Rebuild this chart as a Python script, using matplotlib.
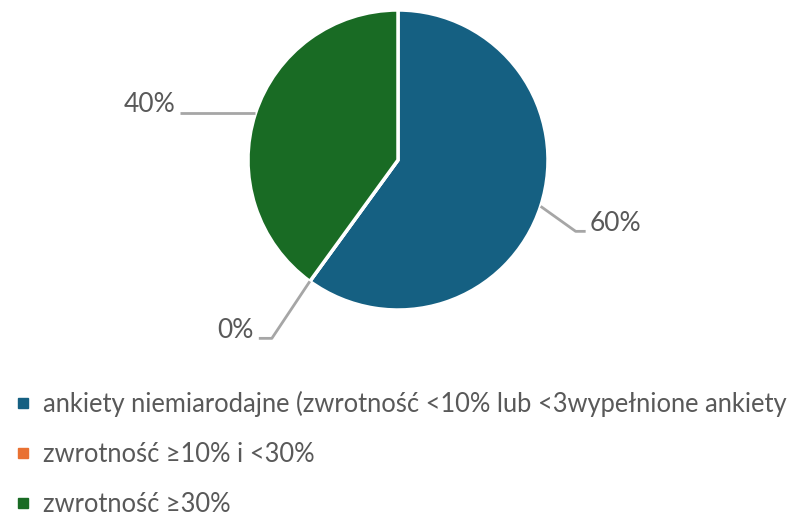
import matplotlib
matplotlib.use("Agg")
import matplotlib.pyplot as plt
from matplotlib.lines import Line2D
import numpy as np

categories = ["ankiety niemiarodajne (zwrotność <10% lub <3wypełnione ankiety",
              "zwrotność ≥10% i <30%",
              "zwrotność ≥30%"]
values = [60, 0, 40]
labels = ["60%", "0%", "40%"]
colors = ["#156082", "#E97132", "#196B24"]

plt.rcParams['font.family'] = ['Lato', 'DejaVu Sans']
W, H = 793, 521
fig = plt.figure(figsize=(W/100, H/100), dpi=100)
ax = fig.add_axes([0, 0, 1, 1])
ax.set_xlim(0, W)
ax.set_ylim(0, H)
ax.set_aspect('equal')
ax.axis('off')

cx, cy, r = 398, H - 160, 150
wedges, _ = ax.pie(values, colors=colors, startangle=90, counterclock=False,
                   center=(cx, cy), radius=r, frame=True,
                   wedgeprops=dict(edgecolor='white', linewidth=2.5))
ax.set_xlim(0, W)
ax.set_ylim(0, H)
ax.axis('off')

txtc = "#595959"
linec = "#A6A6A6"
geo = {0: (35, -25, 10, 'left'), 2: (-75, 0, 0, 'right'), 1: (-38, -57, -13, 'right')}
for i, w in enumerate(wedges):
    mid = np.deg2rad((w.theta1 + w.theta2) / 2)
    ax_ = cx + r * np.cos(mid)
    ay_ = cy + r * np.sin(mid)
    dx, dy, hl, side = geo[i]
    ex, ey = ax_ + dx, ay_ + dy
    fx = ex + hl
    if i == 2:
        xs, ys = [ax_, ex], [ay_ + 1, ay_ + 1]
        fx = ex
        ey = ay_ + 1
    else:
        xs, ys = [ax_, ex, fx], [ay_, ey, ey]
    ax.plot(xs, ys, color=linec, lw=2, solid_capstyle='butt')
    if side == 'left':
        ax.text(fx + 4, ey + 8, labels[i], ha='left', va='center', fontsize=19, color=txtc)
    else:
        ax.text(fx - 5, ey + 8, labels[i], ha='right', va='center', fontsize=19, color=txtc)

handles = [Line2D([0], [0], marker='s', linestyle='none', markersize=7,
                  markerfacecolor=c, markeredgecolor=c) for c in colors]
leg = fig.legend(handles, categories, loc='upper left', bbox_to_anchor=(0.008, 1 - 381/H),
                 frameon=False, fontsize=18.4, labelspacing=0.98, handlelength=0.5,
                 handletextpad=0.55, borderaxespad=0)
for t in leg.get_texts():
    t.set_color(txtc)

fig.savefig("out.png", dpi=100)
